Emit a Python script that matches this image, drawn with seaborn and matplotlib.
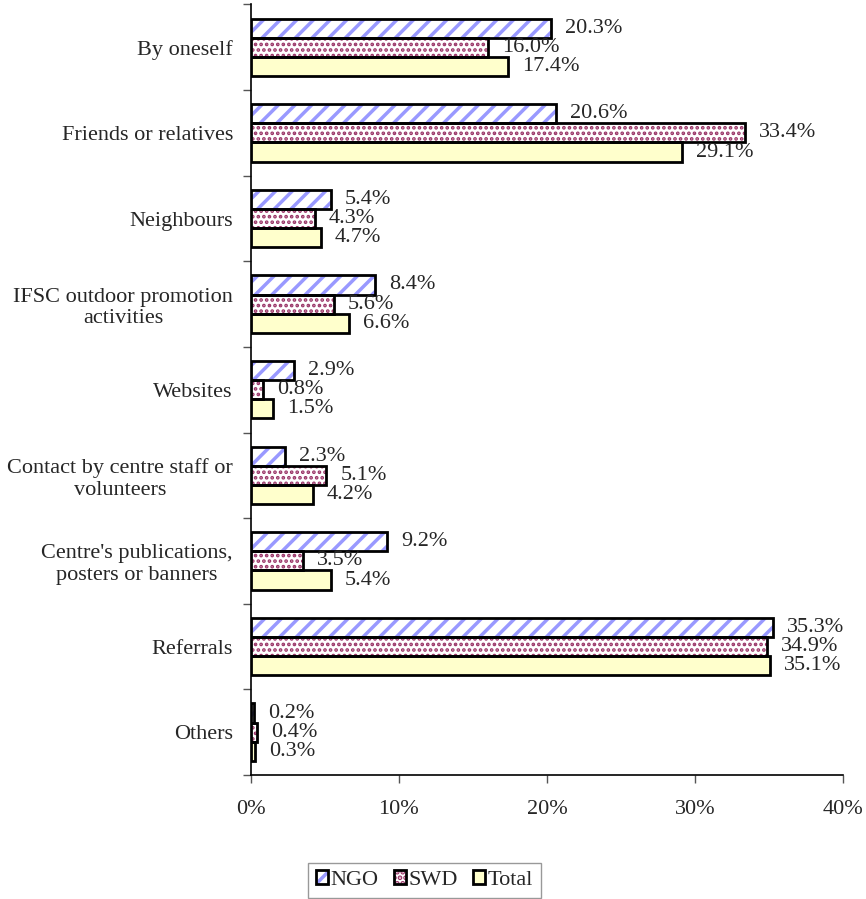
import matplotlib
matplotlib.use("Agg")
import matplotlib.pyplot as plt
import numpy as np
import pandas as pd
import seaborn as sns
from matplotlib.patches import Patch, Rectangle

sources = ["By oneself", "Friends or relatives", "Neighbours",
           "IFSC outdoor promotion\nactivities", "Websites",
           "Contact by centre staff or\nvolunteers",
           "Centre's publications,\nposters or banners", "Referrals", "Others"]
groups = ["NGO", "SWD", "Total"]
ngo = [20.3, 20.6, 5.4, 8.4, 2.9, 2.3, 9.2, 35.3, 0.2]
swd = [16.0, 33.4, 4.3, 5.6, 0.8, 5.1, 3.5, 34.9, 0.4]
total = [17.4, 29.1, 4.7, 6.6, 1.5, 4.2, 5.4, 35.1, 0.3]
x_ticks = [0, 10, 20, 30, 40]

# fill, hatch colour, hatch, hatch linewidth per group
styles = {"NGO": ("white", "#9999FF", "//", 2.5),
          "SWD": ("white", "#993366", "...", 1.8),
          "Total": ("#FFFFCC", "#FFFFCC", "", 1.0)}

df = pd.DataFrame({
    "source": sources * 3,
    "group": [g for g in groups for _ in sources],
    "pct": ngo + swd + total,
})

sns.set_style("ticks")
plt.rcParams["font.family"] = ["Liberation Serif", "DejaVu Serif"]
plt.rcParams["hatch.linewidth"] = 2.5
fs = 16

fig = plt.figure(figsize=(8.66, 8.99), dpi=100)
ax = fig.add_axes([0.2898, 0.138, 0.6836, 0.857])

sns.barplot(data=df, y="source", x="pct", hue="group", orient="h",
            width=0.67, gap=0, errorbar=None, legend=False,
            palette=[styles[g][0] for g in groups], ax=ax)


def style_patch(p, face, hcol, hatch, hlw):
    p.set_facecolor(face)
    p.set_edgecolor(hcol)
    p.set_hatch(hatch)
    p.set_linewidth(0)
    if hasattr(p, "set_hatch_linewidth"):
        p.set_hatch_linewidth(hlw)


handles = []
for cont, g, vals in zip(ax.containers, groups, [ngo, swd, total]):
    for bar in cont:
        style_patch(bar, *styles[g])
        ax.add_patch(Rectangle(bar.get_xy(), bar.get_width(), bar.get_height(),
                               fill=False, edgecolor="black", linewidth=2, zorder=3))
    ax.bar_label(cont, labels=[f"{v:.1f}%" for v in vals], padding=10, fontsize=fs)
    h = Patch()
    style_patch(h, *styles[g])
    handles.append((h, Patch(fill=False, edgecolor="black", linewidth=2)))

ax.set_xlim(0, 40)
ax.set_ylim(len(sources) - 0.5, -0.5)
ax.set_xticks(x_ticks)
ax.set_xticklabels([f"{t}%" for t in x_ticks], fontsize=fs)
ax.set_yticks(range(len(sources)))
ax.set_yticklabels(sources, fontsize=fs, multialignment="center")
ax.set_yticks(np.arange(-0.5, len(sources)), minor=True)
ax.tick_params(axis="y", which="major", length=0, pad=13)
ax.tick_params(axis="y", which="minor", length=6, direction="out", width=1, color="#555555")
ax.tick_params(axis="x", length=6, width=1, pad=12, color="#555555")
ax.set_xlabel("")
ax.set_ylabel("")
sns.despine(ax=ax)
for sp in ["left", "bottom"]:
    ax.spines[sp].set_linewidth(1.2)
    ax.spines[sp].set_color("black")

leg = fig.legend(handles, groups, loc="center", bbox_to_anchor=(0.49, 0.021), ncol=3,
                 fontsize=fs, frameon=True, fancybox=False, edgecolor="#808080",
                 handlelength=0.55, handleheight=0.55, handletextpad=0.1,
                 columnspacing=0.7, borderpad=0.35)
leg.get_frame().set_linewidth(1)

fig.savefig("out.png", dpi=100)
